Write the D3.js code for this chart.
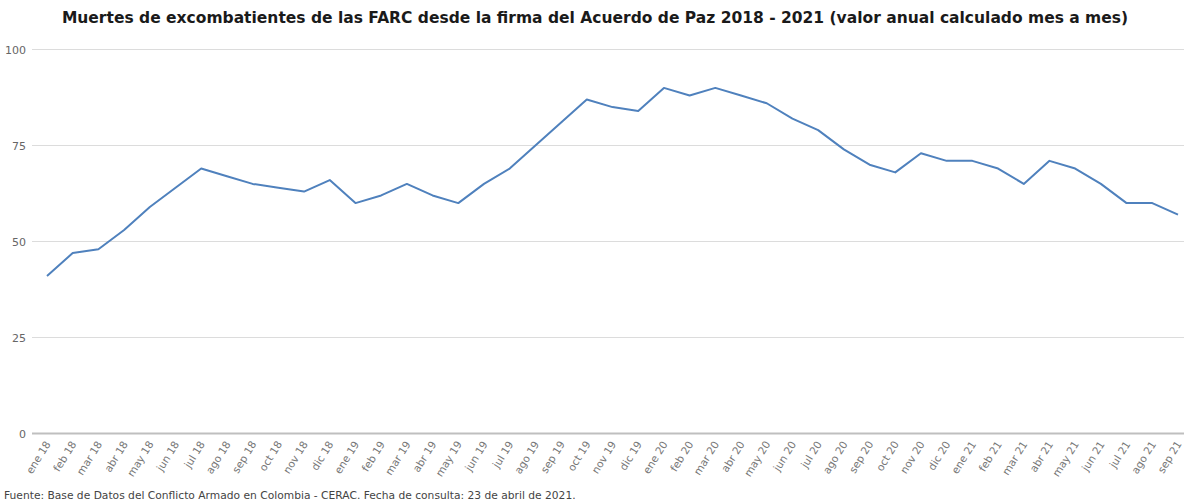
<!DOCTYPE html>
<html><head><meta charset="utf-8">
<script src="https://cdn.jsdelivr.net/npm/d3@7"></script>
<style>body{margin:0;background:#fff}svg{display:block}</style>
</head><body>
<svg id="c" width="1184" height="504"></svg>
<script>
const months = ["ene","feb","mar","abr","may","jun","jul","ago","sep","oct","nov","dic"];
const categories = [];
for (const yr of ["18","19","20"]) for (const m of months) categories.push(m + " " + yr);
for (const m of months.slice(0,9)) categories.push(m + " 21");
const values = [41,47,48,53,59,64,69,67,65,64,63,66,
                60,62,65,62,60,65,69,75,81,87,85,84,
                90,88,90,88,86,82,79,74,70,68,73,71,
                71,69,65,71,69,65,60,60,57];
const yTicks = [0,25,50,75,100];
const title = "Muertes de excombatientes de las FARC desde la firma del Acuerdo de Paz 2018 - 2021 (valor anual calculado mes a mes)";
const source = "Fuente: Base de Datos del Conflicto Armado en Colombia - CERAC. Fecha de consulta: 23 de abril de 2021.";

const svg = d3.select("#c");
const font = "Verdana, 'DejaVu Sans', sans-serif";
const x = d3.scalePoint().domain(categories).range([47, 1178]);
const y = d3.scaleLinear().domain([0,100]).range([433.5, 49.5]);

svg.append("text").attr("x", 595).attr("y", 23).attr("text-anchor","middle")
  .attr("font-family", font).attr("font-weight","bold").attr("font-size", 15.5).attr("fill","#1a1a1a")
  .text(title);

const g = svg.append("g");
g.selectAll("line.grid").data(yTicks.filter(d=>d>0)).join("line")
  .attr("x1", 32).attr("x2", 1184).attr("y1", d=>y(d)).attr("y2", d=>y(d))
  .attr("stroke","#dcdcdc").attr("stroke-width",1);
g.append("line").attr("x1",32).attr("x2",1184).attr("y1",y(0)).attr("y2",y(0))
  .attr("stroke","#bfbfbf").attr("stroke-width",2);
g.selectAll("text.yl").data(yTicks).join("text")
  .attr("x", 26).attr("y", d=>y(d)+4).attr("text-anchor","end")
  .attr("font-family", font).attr("font-size", 11).attr("fill","#666")
  .text(d=>d);

g.selectAll("text.xl").data(categories).join("text")
  .attr("transform", d=>`translate(${x(d)+1},${442}) rotate(-58)`)
  .attr("text-anchor","end").attr("dy","0.35em")
  .attr("font-family", font).attr("font-size", 10.5).attr("fill","#777")
  .text(d=>d);

const line = d3.line().x((d,i)=>x(categories[i])).y(d=>y(d));
svg.append("path").datum(values).attr("d", line)
  .attr("fill","none").attr("stroke","#4f81bd").attr("stroke-width",2)
  .attr("stroke-linejoin","round");

svg.append("text").attr("x", 4).attr("y", 499)
  .attr("font-family", font).attr("font-size", 10.7).attr("fill","#444")
  .text(source);
</script>
</body></html>
